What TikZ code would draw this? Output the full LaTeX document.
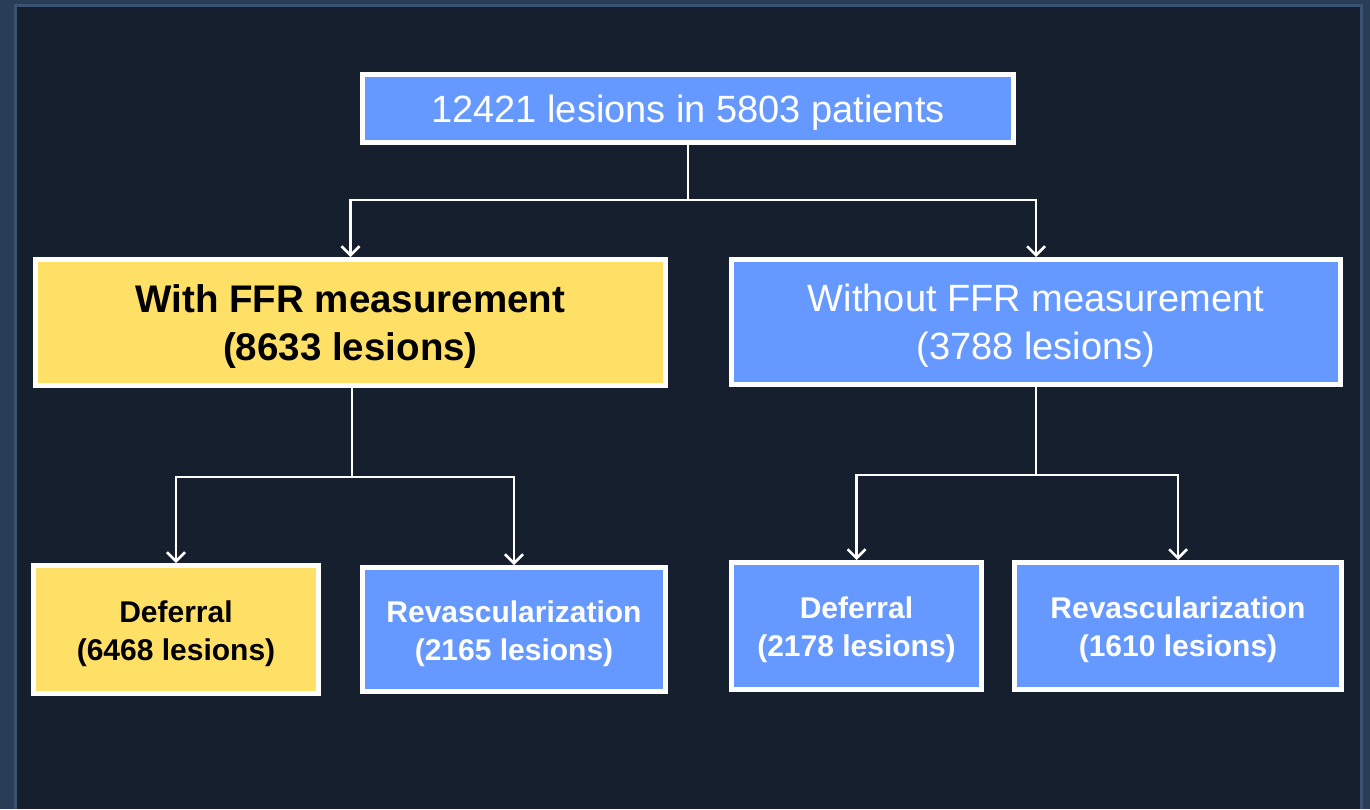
\documentclass[tikz,border=0pt]{standalone}
\usepackage{fontspec}
\setmainfont{Liberation Sans}
\usetikzlibrary{arrows.meta}
\definecolor{frameblue}{HTML}{293D56}
\definecolor{frameline}{HTML}{3A5373}
\definecolor{bgdark}{HTML}{161F2D}
\definecolor{boxblue}{HTML}{6699FF}
\definecolor{boxyellow}{HTML}{FFE066}
\tikzset{
  box/.style={draw=white, line width=5pt, rectangle, inner sep=0pt},
  bluebox/.style={box, fill=boxblue},
  yellowbox/.style={box, fill=boxyellow},
  txt/.style={align=center, inner sep=0pt},
  whitetxt/.style={txt, text=white},
  blacktxt/.style={txt, text=black},
  conn/.style={draw=white, line width=2.5pt},
  arr/.style={conn, -{Straight Barb[length=9pt,width=18pt,line width=2.5pt]}},
  bigtxt/.style={font=\fontsize{38}{48}\selectfont},
  bigbold/.style={font=\fontsize{38.5}{48}\selectfont\bfseries},
  smalltxt/.style={font=\fontsize{30}{38}\selectfont\bfseries}
}
\begin{document}
\begin{tikzpicture}[x=1pt,y=-1pt]
\useasboundingbox (0,0) rectangle (1370,809);
\fill[frameblue] (0,0) rectangle (1370,809);
\fill[frameline] (14,4) rectangle (1363,809);
\fill[bgdark] (17,7) rectangle (1360,809);

\node[bluebox, minimum width=651pt, minimum height=68pt] (top) at (688,108.5) {};
\node[yellowbox, minimum width=630pt, minimum height=126pt] (L) at (350.5,322.5) {};
\node[bluebox, minimum width=609pt, minimum height=125pt] (R) at (1036,322) {};
\node[yellowbox, minimum width=285pt, minimum height=128pt] (LD) at (176,629.5) {};
\node[bluebox, minimum width=303pt, minimum height=124pt] (LR) at (514,629.5) {};
\node[bluebox, minimum width=250pt, minimum height=127pt] (RD) at (856.5,626) {};
\node[bluebox, minimum width=327pt, minimum height=127pt] (RR) at (1178,626) {};

\node[whitetxt, bigtxt] (topt) at ([yshift=-4pt]top.center) {12421 lesions in 5803 patients};
\node[blacktxt, bigbold] (Lt) at ([yshift=-4pt]L.center) {With FFR measurement\\(8633 lesions)};
\node[whitetxt, bigtxt] (Rt) at ([yshift=-4pt]R.center) {Without FFR measurement\\(3788 lesions)};
\node[blacktxt, smalltxt] (LDt) at ([yshift=-4pt]LD.center) {Deferral\\(6468 lesions)};
\node[whitetxt, smalltxt] (LRt) at ([yshift=-4pt]LR.center) {Revascularization\\(2165 lesions)};
\node[whitetxt, smalltxt] (RDt) at ([yshift=-4pt]RD.center) {Deferral\\(2178 lesions)};
\node[whitetxt, smalltxt] (RRt) at ([yshift=-4pt]RR.center) {Revascularization\\(1610 lesions)};

\coordinate (j0) at (688,200);
\coordinate (j1) at (352,477);
\coordinate (j2) at (1036,475);

\draw[conn] (top.south) -- (j0);
\draw[arr] (j0) -| (L.north);
\draw[arr] (j0) -| (R.north);
\draw[conn] (L.south -| j1) -- (j1);
\draw[arr] (j1) -| (LD.north);
\draw[arr] (j1) -| (LR.north);
\draw[conn] (R.south) -- (j2);
\draw[arr] (j2) -| (RD.north);
\draw[arr] (j2) -| (RR.north);
\end{tikzpicture}
\end{document}
